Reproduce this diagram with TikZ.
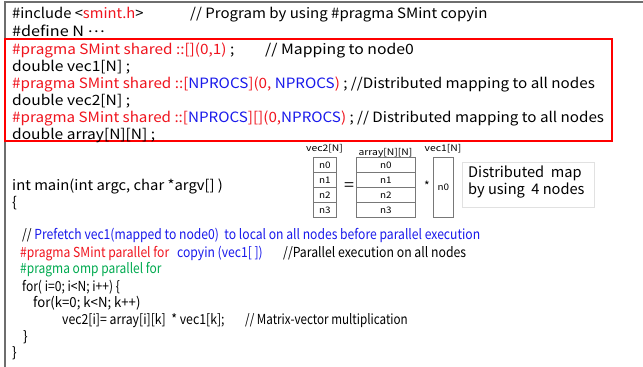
\documentclass[tikz,border=0pt]{standalone}
\usepackage{graphicx}
\usepackage{fontspec}
\setmainfont{Noto Sans CJK JP}
\newfontfamily\codefont{Noto Sans CJK JP}
\definecolor{kred}{RGB}{240,20,30}
\definecolor{kblue}{RGB}{25,25,235}
\definecolor{kgreen}{RGB}{0,170,80}
\definecolor{frame}{RGB}{110,110,110}
\definecolor{cellgray}{RGB}{120,120,120}
% horizontal stretch of a piece of code text
\newcommand{\wide}[2]{\scalebox{#1}[1]{#2}}
\begin{document}
\begin{tikzpicture}[x=1pt,y=-1pt,
  code/.style={anchor=base west,inner sep=0pt,font=\codefont\fontsize{14.2}{16}\selectfont},
  codeL/.style={anchor=base west,inner sep=0pt,font=\codefont\fontsize{13.8}{16}\selectfont},
  small/.style={inner sep=0pt,font=\codefont\fontsize{9}{10}\selectfont},
  cell/.style={draw=cellgray,line width=0.6pt,inner sep=0pt,font=\codefont\fontsize{9}{10}\selectfont}]
\useasboundingbox (0,0) rectangle (643,367);
\fill[white] (0,0) rectangle (643,367);

% outer frame (top and left edges)
\draw[frame,line width=1.2pt] (5,367) -- (5,2) -- (643,2);

% declarations block
\draw[red,line width=1.6pt] (5,39) rectangle (612,141);

\node[code] (l1) at (12,18) {\wide{1.04}{\#include <\textcolor{kred}{smint.h}>}};
\node[code] (c1) at (190,18) {\wide{1.06}{// Program by using \#pragma SMint copyin}};
\node[code] (l2) at (12,36) {\wide{1.14}{\#define N \raisebox{3.6pt}{…}}};
\node[code] (l3) at (12,54) {\wide{1.08}{\textcolor{kred}{\#pragma SMint shared ::[](0,1)} ;}};
\node[code] (c3) at (265,54) {\wide{1.11}{// Mapping to node0}};
\node[code] (l4) at (12,71) {\wide{1.10}{double vec1[N] ;}};
\node[code] (l5) at (12,88) {\wide{1.072}{\textcolor{kred}{\#pragma SMint shared ::[}\textcolor{kblue}{NPROCS}\textcolor{kred}{](0, }\textcolor{kblue}{NPROCS}\textcolor{kred}{ )} ; //Distributed mapping to all nodes}};
\node[code] (l6) at (12,105) {\wide{1.10}{double vec2[N] ;}};
\node[code] (l7) at (12,122) {\wide{1.07}{\textcolor{kred}{\#pragma SMint shared ::[}\textcolor{kblue}{NPROCS}\textcolor{kred}{][](0,}\textcolor{kblue}{NPROCS}\textcolor{kred}{)} ; // Distributed mapping to all nodes}};
\node[code] (l8) at (12,139) {\wide{1.094}{double array[N][N] ;}};

% main program
\node[code] (m1) at (12,190) {\wide{1.045}{int main(int argc, char *argv[] )}};
\node[code] (m2) at (12,207) {\{};
\node[codeL] (m3) at (22,239) {\wide{0.88}{// \textcolor{kblue}{Prefetch vec1(mapped to node0) \ to local on all nodes before parallel execution}}};
\node[codeL] (m4) at (20,257) {\wide{0.878}{\textcolor{kred}{\#pragma SMint parallel for}}};
\node[codeL] (m4b) at (177,257) {\wide{0.88}{\textcolor{kblue}{copyin (vec1[ ])}}};
\node[codeL] (m4c) at (283,257) {\wide{0.888}{//Parallel execution on all nodes}};
\node[codeL] (m5) at (20,273) {\wide{0.87}{\textcolor{kgreen}{\#pragma omp parallel for}}};
\node[codeL] (m6) at (22,291) {\wide{0.875}{for( i=0; i<N; i++) \{}};
\node[codeL] (m7) at (33,307) {\wide{0.955}{for(k=0; k<N; k++)}};
\node[codeL] (m8) at (62,324) {\wide{0.89}{vec2[i]= array[i][k] \ * vec1[k];}};
\node[codeL] (m8c) at (245,324) {\wide{0.845}{// Matrix-vector multiplication}};
\node[codeL] (m9) at (23,341) {\}};
\node[codeL] (m10) at (12,357) {\}};

% distribution picture
\node[small] (lv2) at (324.5,149) {\wide{1.15}{vec2[N]}};
\node[small] (lar) at (385.5,153) {\wide{1.15}{array[N][N]}};
\node[small] (lv1) at (443,149) {\wide{1.15}{vec1[N]}};
\foreach \i/\yy in {0/157,1/172,2/187,3/202}{
  \node[cell,minimum width=23pt,minimum height=14.4pt,anchor=north west] (v\i) at (313,\yy+0.3) {\wide{1.1}{n\i}};
  \node[cell,minimum width=59pt,minimum height=14.4pt,anchor=north west] (a\i) at (356,\yy+0.3) {\wide{1.1}{n\i}};
}
\node[cell,minimum width=20pt,minimum height=60pt,anchor=north west] (w0) at (433,157) {\wide{1.1}{n0}};
\node[inner sep=0pt,font=\codefont\fontsize{15}{15}\selectfont] (eq) at (349,187) {\wide{1.2}{=}};
\node[inner sep=0pt,font=\codefont\fontsize{12}{12}\selectfont] (st) at (427,186) {*};
\node[draw={rgb,255:red,225;green,225;blue,225},line width=0.6pt,anchor=north west,
      minimum width=132pt,minimum height=45pt,inner sep=0pt] (dm) at (462,162) {};
\node[anchor=west,inner sep=0pt,align=left,font=\codefont\fontsize{14.6}{17}\selectfont] (dmt) at (468,182) {Distributed \ map\\by using \ 4 nodes};
\end{tikzpicture}
\end{document}
